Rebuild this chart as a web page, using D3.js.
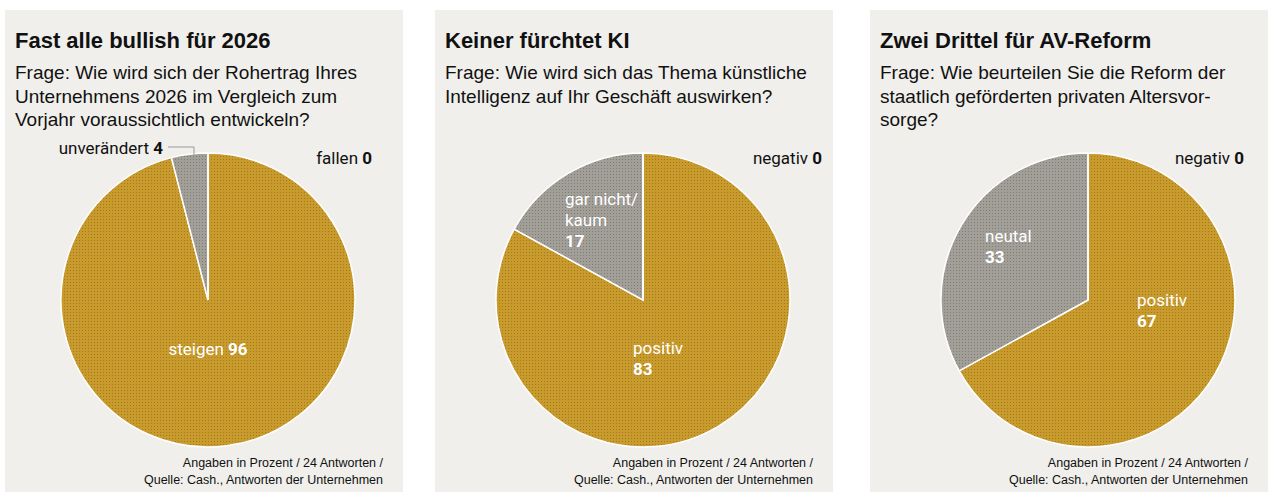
<!DOCTYPE html>
<html><head><meta charset="utf-8">
<script src="https://cdn.jsdelivr.net/npm/d3@7"></script>
<style>
body{margin:0;background:#fff;}
.cond{font-family:"Liberation Sans Narrow","Roboto",sans-serif;}
</style></head><body>
<svg id="c" width="1280" height="500"></svg>
<script>
'use strict';

/* ── Data ── */
const titles    = ['Fast alle bullish für 2026', 'Keiner fürchtet KI', 'Zwei Drittel für AV-Reform'];
const questions = [
  ['Frage: Wie wird sich der Rohertrag Ihres', 'Unternehmens 2026 im Vergleich zum', 'Vorjahr voraussichtlich entwickeln?'],
  ['Frage: Wie wird sich das Thema künstliche', 'Intelligenz auf Ihr Geschäft auswirken?'],
  ['Frage: Wie beurteilen Sie die Reform der', 'staatlich geförderten privaten Altersvor-', 'sorge?']
];
const sliceLabels = [['steigen', 'unverändert', 'fallen'], ['positiv', 'gar nicht/kaum', 'negativ'], ['positiv', 'neutal', 'negativ']];
const sliceValues = [[96, 4, 0], [83, 17, 0], [67, 33, 0]];
const footnote = ['Angaben in Prozent / 24 Antworten /', 'Quelle: Cash., Antworten der Unternehmen'];

/* ── Layout ── */
const panelX = [5, 435, 870], PW = 398, PY = 10, PH = 482;
const R = 147, CY = 300;
const svg = d3.select('#c');

const defs = svg.append('defs');
function dotPattern(id, base, dot) {
  const p = defs.append('pattern').attr('id', id).attr('width', 3).attr('height', 3)
    .attr('patternUnits', 'userSpaceOnUse');
  p.append('rect').attr('width', 3).attr('height', 3).attr('fill', base);
  p.append('rect').attr('width', 1).attr('height', 1).attr('fill', dot);
}
dotPattern('pGold', '#c99b2c', '#a07a22');
dotPattern('pGrey', '#a29e98', '#7f7b76');

const pie = d3.pie().sort(null).value(d => d);
const arc = d3.arc().innerRadius(0).outerRadius(R);

panelX.forEach((px, i) => {
  const g = svg.append('g').attr('transform', `translate(${px},${PY})`);
  g.append('rect').attr('width', PW).attr('height', PH).attr('fill', '#f0efec');

  g.append('text').attr('x', 10).attr('y', 38)
    .attr('font-family', 'Liberation Sans, Arial, sans-serif').attr('font-weight', 'bold')
    .attr('font-size', 22).attr('fill', '#111').text(titles[i]);
  questions[i].forEach((q, j) => g.append('text').attr('x', 10).attr('y', 69 + j * 23.5)
    .attr('font-family', 'Liberation Sans, Arial, sans-serif').attr('font-size', 19)
    .attr('fill', '#111').text(q));

  const cx = [203, 208, 218][i];
  const pg = g.append('g').attr('transform', `translate(${cx},${CY - PY})`);
  pg.selectAll('path').data(pie(sliceValues[i])).join('path')
    .attr('d', arc)
    .attr('fill', (d, k) => k === 0 ? 'url(#pGold)' : 'url(#pGrey)')
    .attr('stroke', '#fff').attr('stroke-width', 1.5);

  footnote.forEach((f, j) => g.append('text').attr('x', 378).attr('y', 457 + j * 17)
    .attr('text-anchor', 'end').attr('font-family', 'Liberation Sans, Arial, sans-serif')
    .attr('font-size', 12.5).attr('fill', '#111').text(f));
});

/* ── Slice labels ── */
function label(x, y, parts, opts = {}) {
  const t = svg.append('text').attr('class', 'cond').attr('x', x).attr('y', y)
    .attr('font-size', 17).attr('fill', opts.fill || '#111')
    .attr('text-anchor', opts.anchor || 'start');
  parts.forEach(([s, bold]) => t.append('tspan').attr('font-weight', bold ? 'bold' : 'normal').text(s));
}
function stack(x, y, lines, fill) {
  lines.forEach((l, j) => svg.append('text').attr('class', 'cond').attr('x', x).attr('y', y + j * 21)
    .attr('font-size', 17).attr('font-weight', l[1] ? 'bold' : 'normal').attr('fill', fill).text(l[0]));
}
const sv = sliceValues;
label(163, 154, [[sliceLabels[0][1] + ' '], [String(sv[0][1]), true]], {anchor: 'end'});
svg.append('path').attr('d', 'M168,147H194V156').attr('fill', 'none').attr('stroke', '#999').attr('stroke-width', 1);
label(372, 164, [[sliceLabels[0][2] + ' '], [String(sv[0][2]), true]], {anchor: 'end'});
label(208, 355, [[sliceLabels[0][0] + ' '], [String(sv[0][0]), true]], {anchor: 'middle', fill: '#fff'});

label(822, 164, [[sliceLabels[1][2] + ' '], [String(sv[1][2]), true]], {anchor: 'end'});
stack(565, 205, [['gar nicht/'], ['kaum'], [String(sv[1][1]), true]], '#fff');
stack(633, 354, [[sliceLabels[1][0]], [String(sv[1][0]), true]], '#fff');

label(1244, 164, [[sliceLabels[2][2] + ' '], [String(sv[2][2]), true]], {anchor: 'end'});
stack(985, 242, [[sliceLabels[2][1]], [String(sv[2][1]), true]], '#fff');
stack(1137, 306, [[sliceLabels[2][0]], [String(sv[2][0]), true]], '#fff');
</script></body></html>
